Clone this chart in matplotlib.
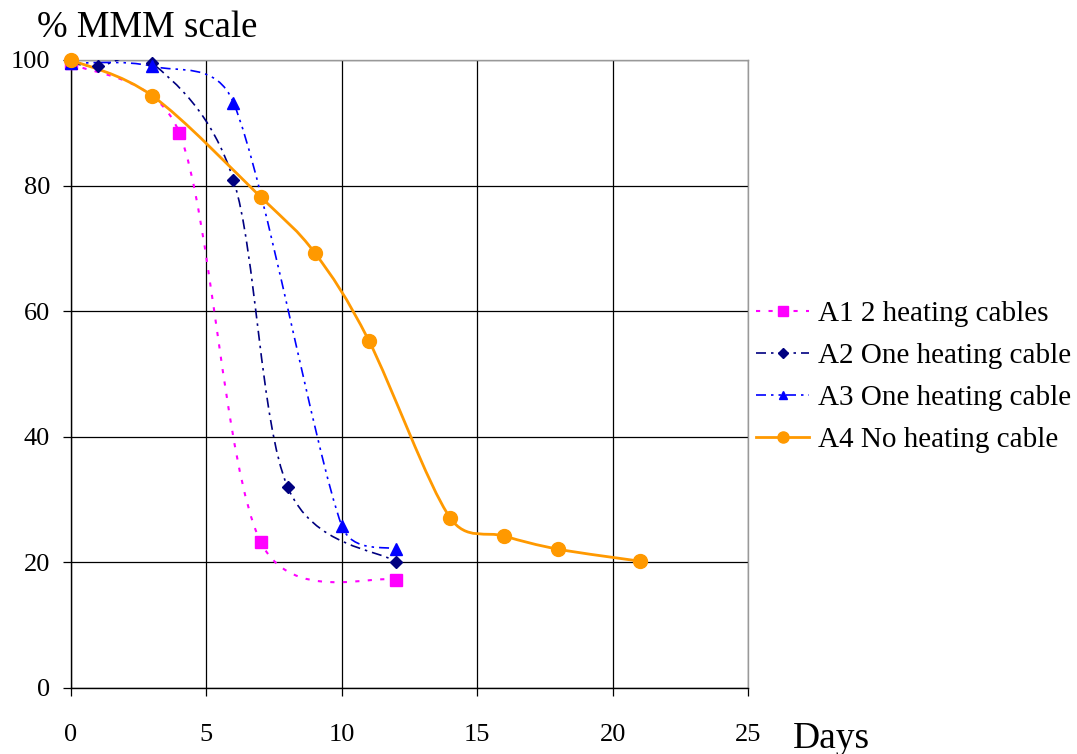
import matplotlib
matplotlib.use("Agg")
import matplotlib.pyplot as plt
import numpy as np
from matplotlib.path import Path
from matplotlib.patches import PathPatch
from matplotlib.lines import Line2D

plt.rcParams['font.family'] = ['Liberation Serif', 'DejaVu Serif']

# data
a1_days = [0, 4, 7, 12]
a1_mmm = [99.5, 88.4, 23.3, 17.2]

a2_days = [0, 1, 3, 6, 8, 12]
a2_mmm = [99.5, 99.0, 99.5, 80.9, 32.0, 20.1]

a3_days = [0, 3, 6, 10, 12]
a3_mmm = [99.5, 99.0, 93.2, 25.8, 22.1]

a4_days = [0, 3, 7, 9, 11, 14, 16, 18, 21]
a4_mmm = [100.0, 94.3, 78.2, 69.3, 55.3, 27.1, 24.2, 22.1, 20.2]

labels = ['A1 2 heating cables', 'A2 One heating cable',
          'A3 One heating cable', 'A4 No heating cable']

series = [
    (a1_days, a1_mmm, '#FF00FF', (0, (2, 4)), 1.5, 's', 9),
    (a2_days, a2_mmm, '#000080', (0, (6, 3, 1.5, 3)), 1.2, 'D', 6),
    (a3_days, a3_mmm, '#0000FF', (0, (6, 3, 1.5, 3, 1.5, 3)), 1.2, '^', 8),
    (a4_days, a4_mmm, '#FF9900', '-', 2.0, 'o', 10),
]

# axes box in pixels, used for the smoothing geometry
AX_L, AX_R, AX_T, AX_B = 71, 748, 60, 688
XMAX, YMAX = 25, 100
SX = (AX_R - AX_L) / XMAX
SY = (AX_B - AX_T) / YMAX


def clamp(arm, maxlen):
    L = np.linalg.norm(arm)
    if L > maxlen and L > 0:
        return arm * maxlen / L
    return arm


def smooth_path(xs, ys):
    # Excel-like smoothed line: bezier with 1/6 tension, control arms
    # limited to half the segment length (screen space)
    p = np.column_stack([np.asarray(xs) * SX, np.asarray(ys) * SY]).astype(float)
    n = len(p)
    verts = [p[0]]
    codes = [Path.MOVETO]
    for i in range(n - 1):
        p0 = p[i - 1] if i > 0 else p[i]
        p1 = p[i]
        p2 = p[i + 1]
        p3 = p[i + 2] if i + 2 < n else p[i + 1]
        half = np.linalg.norm(p2 - p1) / 2.0
        c1 = p1 + clamp((p2 - p0) / 6.0, half)
        c2 = p2 - clamp((p3 - p1) / 6.0, half)
        verts += [c1, c2, p2]
        codes += [Path.CURVE4] * 3
    verts = np.array(verts)
    verts[:, 0] /= SX
    verts[:, 1] /= SY
    return Path(verts, codes)


fig = plt.figure(figsize=(10.77, 7.54), dpi=100)
ax = fig.add_axes([AX_L / 1077, 1 - AX_B / 754, (AX_R - AX_L) / 1077, (AX_B - AX_T) / 754])

handles = []
for (xs, ys, col, ls, lw, mk, ms), lab in zip(series, labels):
    patch = PathPatch(smooth_path(xs, ys), fill=False, edgecolor=col,
                      linestyle=ls, lw=lw, zorder=3)
    ax.add_patch(patch)
    ax.plot(xs, ys, ls='none', marker=mk, ms=ms, color=col,
            markeredgecolor=col, zorder=4, clip_on=False)
    handles.append(Line2D([], [], color=col, linestyle=ls, lw=lw,
                          marker=mk, ms=ms * 0.8, markeredgecolor=col))

ax.set_xlim(0, XMAX)
ax.set_ylim(0, YMAX)
ax.set_xticks(np.arange(0, 26, 5))
ax.set_yticks(np.arange(0, 101, 20))
ax.grid(True, color='black', lw=0.9, zorder=1)
ax.tick_params(direction='out', length=6, width=0.9, labelsize=19)
ax.tick_params(axis='x', pad=20)
ax.tick_params(axis='y', pad=9)
for s in ['left', 'bottom']:
    ax.spines[s].set_color('black')
    ax.spines[s].set_linewidth(1.0)
for s in ['top', 'right']:
    ax.spines[s].set_color('#999999')
    ax.spines[s].set_linewidth(1.0)

fig.text(37 / 1077, 1 - 37 / 754, '% MMM scale', fontsize=26.5, ha='left', va='baseline')
fig.text(793 / 1077, 1 - 748 / 754, 'Days', fontsize=27, ha='left', va='baseline')

leg = fig.legend(handles, labels, loc='upper left',
                 bbox_to_anchor=(752 / 1077, 1 - 296 / 754),
                 fontsize=21, frameon=True, handlelength=1.8,
                 handletextpad=0.3, labelspacing=0.54, borderpad=0.15,
                 borderaxespad=0)
leg.get_frame().set_edgecolor('none')
leg.get_frame().set_facecolor('white')
leg.get_frame().set_alpha(1.0)
leg.set_zorder(10)

fig.savefig('out.png', dpi=100)
